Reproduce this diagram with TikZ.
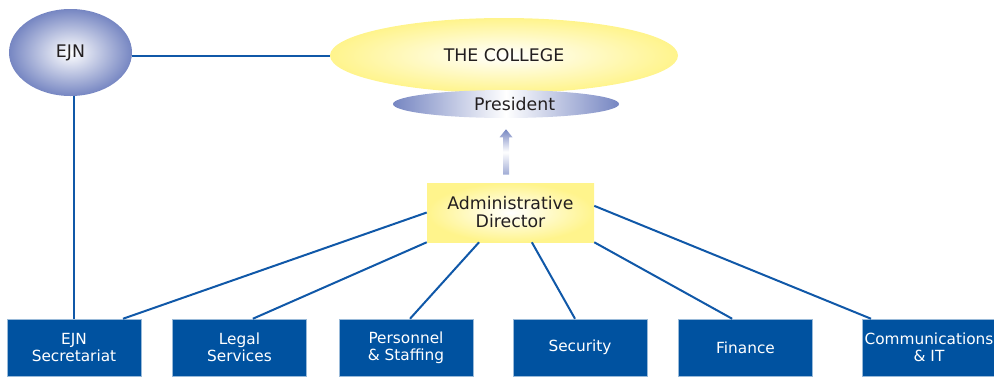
\documentclass[tikz,border=0pt]{standalone}
\usepackage{fontspec}
\setmainfont{DejaVu Sans}
\usetikzlibrary{shapes.geometric,calc}

\definecolor{unitblue}{RGB}{0,82,160}
\definecolor{linkblue}{RGB}{16,88,168}
\definecolor{ejnblue}{RGB}{118,134,194}
\definecolor{collyellow}{RGB}{255,244,140}
\definecolor{inkgray}{RGB}{35,31,32}

\begin{document}
\begin{tikzpicture}[x=0.75pt,y=-0.75pt,
  link/.style={draw=linkblue,line width=1.5pt},
  unit/.style={rectangle,fill=unitblue,draw=unitblue!40!white,line width=0.4pt,
    minimum width=100.5pt,minimum height=42.75pt,inner sep=0pt,
    text=white,align=center,font=\fontsize{11.5}{12.75}\selectfont},
  body/.style={ellipse,inner sep=0pt,text=inkgray,font=\fontsize{13}{15}\selectfont}]
\useasboundingbox (0,0) rectangle (994,376);

\node[body,inner color=white,outer color=ejnblue,minimum width=92.25pt,minimum height=65.25pt] (ejn) at (70.5,52.5) {EJN};

\node[body,inner color=white,outer color=collyellow,minimum width=261pt,minimum height=56.25pt] (college) at (504,55.5) {THE COLLEGE};
\node[body,left color=ejnblue,right color=ejnblue,middle color=white,minimum width=169.5pt,minimum height=21pt] (pres) at (506,104) {\hspace*{13pt}President};

\node[rectangle,inner color=white,outer color=collyellow,minimum width=125.25pt,minimum height=44.25pt,
  text=inkgray,align=center,font=\fontsize{13}{13.5}\selectfont] (admin) at (510.5,212.5) {Administrative\\Director};

\node[unit] (sec) at (74,347.5) {EJN\\Secretariat};
\node[unit] (legal) at (239.5,347.5) {Legal\\Services};
\node[unit] (staff) at (406,347.5) {Personnel\\\& Staffing};
\node[unit] (secu) at (580,347.5) {Security};
\node[unit] (fin) at (745.5,347.5) {Finance};
\node[unit] (comm) at (929,347.5) {Communications\\\& IT};

\draw[link] (ejn.east |- college.west) -- (college.west);
\draw[link] (ejn.south -| sec.north) -- (sec.north);

\draw[link] (admin.west) -- ([xshift=36.75pt]sec.north);
\draw[link] (admin.south west) -- ([xshift=10pt]legal.north);
\draw[link] ([xshift=-23.6pt]admin.south) -- ([xshift=3pt]staff.north);
\draw[link] ([xshift=16pt]admin.south) -- ([xshift=-3.75pt]secu.north);
\draw[link] (admin.south east) -- ([xshift=-10pt]fin.north);
\draw[link] ([yshift=5pt]admin.east) -- ([xshift=-43.5pt]comm.north);

% reporting arrow up to the president
\coordinate (uptip) at ([yshift=-8.25pt]pres.south);
\coordinate (uptail) at ($(uptip |- admin.north)+(0,-8)$);
\shade[top color=ejnblue,bottom color=ejnblue!70,middle color=white]
  ($(uptail)+(-3,0)$) -- ($(uptip)+(-3,8)$) -- ($(uptip)+(-6.5,8)$) -- (uptip)
  -- ($(uptip)+(6.5,8)$) -- ($(uptip)+(3,8)$) -- ($(uptail)+(3,0)$) -- cycle;
\end{tikzpicture}
\end{document}
